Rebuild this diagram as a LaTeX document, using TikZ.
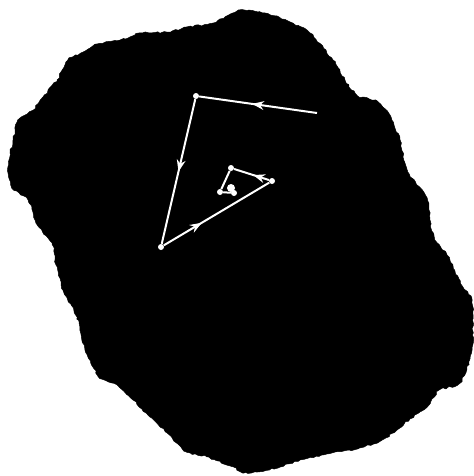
\documentclass[tikz,border=0pt]{standalone}
\usepackage{xcolor}
\usepackage{tikz}
\usetikzlibrary{arrows.meta, decorations.pathmorphing, decorations.markings}
\tikzstyle{region} = [
    fill=black,
    draw=black,
    decorate,
    decoration={random steps, segment length=2.5pt, amplitude=0.8pt}
]
\tikzstyle{visit} = [
    circle,
    fill=white,
    inner sep=0pt,
    minimum size=0.18cm
]
\tikzstyle{walk} = [
    white,
    line width=1.7pt
]
\tikzstyle{midarrow} = [
    postaction={decorate},
    decoration={markings, mark=at position #1 with {\arrow{Stealth[length=10pt, width=7.5pt]}}}
]

\begin{document}
\begin{tikzpicture}[x=0.03cm, y=-0.03cm]
        \useasboundingbox (0,0) rectangle (473,476);
        \pgfmathsetseed{7}
        % Region
        \path[region] plot[smooth cycle, tension=0.4] coordinates {
            (240,10) (265,13) (290,22) (310,33) (333,60) (345,80) (358,96)
            (377,101) (390,115) (400,140) (408,172) (427,198) (430,220)
            (435,240) (447,255) (463,287) (472,300) (472,350) (460,383)
            (440,390) (427,407) (410,419) (393,433) (377,443) (350,450)
            (327,454) (300,460) (280,467) (257,472) (243,473) (233,467)
            (207,457) (187,452) (167,433) (150,417) (133,400) (117,385)
            (100,378) (85,350) (77,317) (63,290) (56,265) (52,243) (38,226)
            (28,200) (12,188) (8,167) (13,140) (18,120) (33,110) (43,97)
            (57,80) (68,60) (83,52) (97,44) (120,40) (140,33) (167,32)
            (187,27) (213,23) (233,13)};
        % Points
        \coordinate (p0) at (317,113);
        \node[visit] (p1) at (196,96) {};
        \node[visit] (p2) at (161,247) {};
        \node[visit] (p3) at (272,181) {};
        \node[visit] (p4) at (231,168) {};
        \node[visit] (p5) at (220,192) {};
        \node[visit] (p6) at (234,193) {};
        \node[visit, minimum size=0.24cm] (p7) at (231,188) {};
        % Path
        \draw[walk, midarrow=0.55] (p0) -- (p1);
        \draw[walk, midarrow=0.5] (p1) -- (p2);
        \draw[walk, midarrow=0.36] (p2) -- (p3);
        \draw[walk, midarrow=0.45] (p3) -- (p4);
        \draw[walk] (p4) -- (p5);
        \draw[walk] (p5) -- (p6);
        \draw[walk] (p6) -- (p7);
    \end{tikzpicture}
\end{document}
